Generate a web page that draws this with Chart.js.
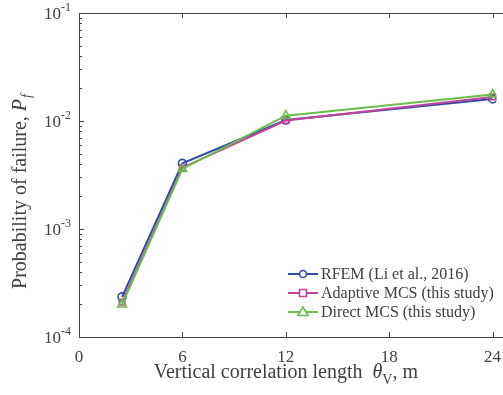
<!DOCTYPE html>
<html><head><meta charset="utf-8">
<script src="https://cdn.jsdelivr.net/npm/chart.js@4"></script>
<style>html,body{margin:0;padding:0;background:#fff}#wrap{width:503px;height:395px}</style>
</head><body><div id="wrap"><canvas id="c" width="503" height="395"></canvas></div>
<script>
const xValues = [2.5, 6, 12, 24];
const rfem = [2.35e-4, 4.05e-3, 1.02e-2, 1.60e-2];
const adaptive = [2.1e-4, 3.7e-3, 1.01e-2, 1.67e-2];
const direct = [2.0e-4, 3.6e-3, 1.12e-2, 1.76e-2];
const seriesNames = ['RFEM (Li et al., 2016)', 'Adaptive MCS (this study)', 'Direct MCS (this study)'];
const xTicks = [0, 6, 12, 18, 24];
const yTicks = [1e-4, 1e-3, 1e-2, 1e-1];
const yTickExp = ['-4', '-3', '-2', '-1'];

const colors = ['#2E4DA7', '#C0449E', '#6ABF4B'];
const markers = ['circle', 'rect', 'triangle'];
const axisColor = '#444444';
const textColor = '#404040';
const serif = '"Liberation Serif", "DejaVu Serif", serif';

function toPts(ys){ return xValues.map((x,i)=>({x:x, y:ys[i]})); }

const custom = {
  id: 'custom',
  afterDraw(chart){
    const ctx = chart.ctx, xs = chart.scales.x, ys = chart.scales.y, a = chart.chartArea;
    ctx.save();
    ctx.strokeStyle = axisColor; ctx.lineWidth = 1;
    ctx.beginPath();
    ctx.moveTo(a.left+0.5, a.top); ctx.lineTo(a.left+0.5, a.bottom);
    ctx.moveTo(a.left, a.bottom+0.5); ctx.lineTo(chart.width, a.bottom+0.5);
    ctx.moveTo(a.left, a.top+0.5); ctx.lineTo(chart.width, a.top+0.5);
    xTicks.forEach(v=>{
      const px = Math.round(xs.getPixelForValue(v))+0.5;
      ctx.moveTo(px, a.bottom); ctx.lineTo(px, a.bottom-5);
      ctx.moveTo(px, a.top); ctx.lineTo(px, a.top+5);
    });
    yTicks.forEach((v,i)=>{
      const py = Math.round(ys.getPixelForValue(v))+0.5;
      ctx.moveTo(a.left, py); ctx.lineTo(a.left+5, py);
      if (i < yTicks.length-1){
        for (let m=2;m<=9;m++){
          const pm = Math.round(ys.getPixelForValue(v*m))+0.5;
          ctx.moveTo(a.left, pm); ctx.lineTo(a.left+3, pm);
        }
      }
    });
    ctx.stroke();

    ctx.fillStyle = textColor;
    ctx.font = '17px ' + serif; ctx.textAlign = 'center'; ctx.textBaseline = 'alphabetic';
    xTicks.forEach(v=>{
      ctx.fillText(String(v), xs.getPixelForValue(v), a.bottom+25);
    });
    yTicks.forEach((v,i)=>{
      const py = ys.getPixelForValue(v);
      ctx.font = '12px ' + serif; ctx.textAlign = 'left';
      const ew = ctx.measureText(yTickExp[i]).width;
      const ex = 71 - ew;
      ctx.fillText(yTickExp[i], ex, py-2);
      ctx.font = '17px ' + serif; ctx.textAlign = 'right';
      ctx.fillText('10', ex, py+6);
    });
    const F = 20, FS = 14;
    const xt1 = 'Vertical correlation length  ', xt2 = '\u03B8', xt3 = 'V', xt4 = ', m';
    ctx.textAlign = 'left';
    ctx.font = F+'px ' + serif; const w1 = ctx.measureText(xt1).width;
    ctx.font = 'italic '+F+'px ' + serif; const w2 = ctx.measureText(xt2).width;
    ctx.font = FS+'px ' + serif; const w3 = ctx.measureText(xt3).width;
    ctx.font = F+'px ' + serif; const w4 = ctx.measureText(xt4).width;
    const cx = (xs.getPixelForValue(0)+xs.getPixelForValue(24))/2;
    let sx = cx - (w1+w2+w3+w4)/2; const by = 378;
    ctx.font = F+'px ' + serif; ctx.fillText(xt1, sx, by); sx += w1;
    ctx.font = 'italic '+F+'px ' + serif; ctx.fillText(xt2, sx, by); sx += w2;
    ctx.font = FS+'px ' + serif; ctx.fillText(xt3, sx, by+6); sx += w3;
    ctx.font = F+'px ' + serif; ctx.fillText(xt4, sx, by);
    ctx.save();
    ctx.translate(26, 189); ctx.rotate(-Math.PI/2);
    const yt1 = 'Probability of failure, ', yt2 = 'P', yt3 = 'f';
    ctx.font = F+'px ' + serif; const v1 = ctx.measureText(yt1).width;
    ctx.font = 'italic '+F+'px ' + serif; const v2 = ctx.measureText(yt2).width;
    ctx.font = 'italic '+FS+'px ' + serif; const v3 = ctx.measureText(yt3).width;
    let ty = -(v1+v2+v3)/2 - 3;
    ctx.font = F+'px ' + serif; ctx.fillText(yt1, ty, 0); ty += v1;
    ctx.font = 'italic '+F+'px ' + serif; ctx.fillText(yt2, ty, 0); ty += v2 + 1;
    ctx.font = 'italic '+FS+'px ' + serif; ctx.fillText(yt3, ty, 5);
    ctx.restore();

    const lx0 = 288, lx1 = 318, ly = [274, 293, 312];
    seriesNames.forEach((name,i)=>{
      const y = ly[i];
      ctx.strokeStyle = colors[i]; ctx.lineWidth = 2;
      ctx.beginPath(); ctx.moveTo(lx0, y); ctx.lineTo(lx1, y); ctx.stroke();
      const mx = (lx0+lx1)/2;
      ctx.fillStyle = '#fff'; ctx.lineWidth = 1.6;
      ctx.beginPath();
      if (markers[i]==='circle'){ ctx.arc(mx, y, 3.5, 0, Math.PI*2); }
      else if (markers[i]==='rect'){ ctx.rect(mx-3.5, y-3.5, 7, 7); }
      else { ctx.moveTo(mx, y-5); ctx.lineTo(mx+5, y+3.5); ctx.lineTo(mx-5, y+3.5); ctx.closePath(); }
      ctx.fill(); ctx.stroke();
      ctx.fillStyle = textColor; ctx.font = '16px ' + serif; ctx.textAlign = 'left';
      ctx.fillText(name, 321, y+5);
    });
    ctx.restore();
  }
};

new Chart(document.getElementById('c'), {
  type: 'line',
  data: {
    datasets: [rfem, adaptive, direct].map((d,i)=>({
      label: seriesNames[i],
      data: toPts(d),
      borderColor: colors[i],
      backgroundColor: '#ffffff',
      borderWidth: 2,
      pointStyle: markers[i],
      pointRadius: i===2 ? 5 : 4,
      pointBorderWidth: 1.6,
      pointBackgroundColor: 'rgba(255,255,255,0)',
      pointBorderColor: colors[i],
      tension: 0,
      order: 2 - i
    }))
  },
  options: {
    responsive: false,
    animation: false,
    events: [],
    layout: { padding: { top: 13, left: 0, right: 0, bottom: 0 } },
    plugins: { legend: { display: false }, tooltip: { enabled: false } },
    scales: {
      x: {
        type: 'linear', min: 0, max: 24.22,
        ticks: { display: false, stepSize: 6 },
        grid: { display: false }, border: { display: false },
        afterFit(s){ s.height = 58; }
      },
      y: {
        type: 'logarithmic', min: 1e-4, max: 1e-1,
        ticks: { display: false },
        grid: { display: false }, border: { display: false },
        afterFit(s){ s.width = 79; }
      }
    }
  },
  plugins: [custom]
});
</script>
</body></html>
